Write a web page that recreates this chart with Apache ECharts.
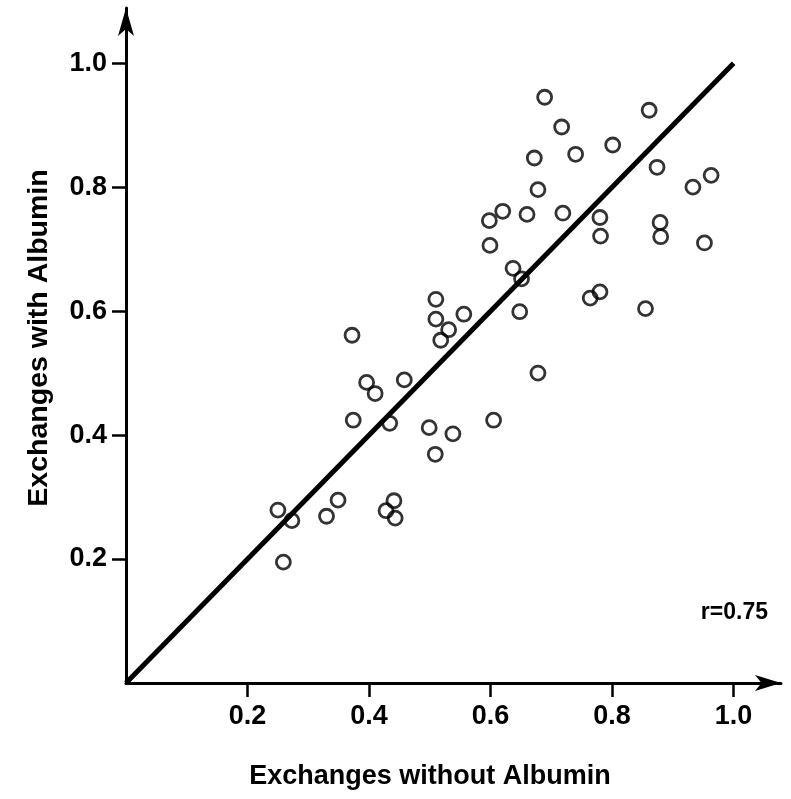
<!DOCTYPE html>
<html>
<head>
<meta charset="utf-8">
<script src="https://cdn.jsdelivr.net/npm/echarts@6/dist/echarts.min.js"></script>
<style>
html,body{margin:0;padding:0;background:#fff;}
#chart{width:791px;height:799px;}
</style>
</head>
<body>
<div id="chart"></div>
<script>
// Exchanges without Albumin (x) vs with Albumin (y)
var withoutAlbumin = [0.250,0.273,0.259,0.330,0.349,0.372,0.374,0.396,0.410,0.458,
  0.434,0.428,0.441,0.443,0.499,0.509,0.538,0.510,0.510,0.531,
  0.518,0.556,0.605,0.598,0.620,0.599,0.637,0.648,0.651,0.660,
  0.672,0.678,0.678,0.689,0.717,0.719,0.740,0.801,0.780,0.781,
  0.764,0.780,0.855,0.861,0.874,0.879,0.880,0.933,0.963,0.952];
var withAlbumin = [0.279,0.262,0.195,0.269,0.295,0.561,0.424,0.485,0.467,0.489,
  0.419,0.278,0.294,0.266,0.412,0.369,0.402,0.619,0.587,0.570,
  0.553,0.595,0.424,0.746,0.761,0.706,0.669,0.599,0.652,0.756,
  0.847,0.796,0.500,0.945,0.897,0.758,0.853,0.868,0.751,0.721,
  0.621,0.631,0.604,0.924,0.832,0.743,0.720,0.800,0.819,0.710];
var identityLine = [[0, 0], [1, 1]];
var xTickValues = [0.2, 0.4, 0.6, 0.8, 1.0];
var yTickValues = [0.2, 0.4, 0.6, 0.8, 1.0];
var xTickLabels = ['0.2', '0.4', '0.6', '0.8', '1.0'];
var yTickLabels = ['0.2', '0.4', '0.6', '0.8', '1.0'];
var xTitle = 'Exchanges without Albumin';
var yTitle = 'Exchanges with Albumin';
var rText = 'r=0.75';

var points = withoutAlbumin.map(function (v, i) { return [v, withAlbumin[i]]; });
var FONT = "'Liberation Sans', Arial, Helvetica, sans-serif";

function labelFor(values, labels) {
  return function (v) {
    for (var i = 0; i < values.length; i++) {
      if (Math.abs(values[i] - v) < 1e-6) return labels[i];
    }
    return '';
  };
}

var chart = echarts.init(document.getElementById('chart'), null, {renderer: 'canvas'});
chart.setOption({
  backgroundColor: '#fff',
  animation: false,
  grid: {left: 126, right: 10, top: 8, bottom: 116, containLabel: false},
  xAxis: {
    type: 'value', min: 0, max: 1.078, interval: 0.2,
    splitLine: {show: false},
    axisLine: {show: true, onZero: false, symbol: ['none', 'arrow'], symbolSize: [12, 26],
      lineStyle: {color: '#000', width: 3}},
    axisTick: {show: true, inside: false, length: 14, customValues: xTickValues,
      lineStyle: {color: '#000', width: 2.5}},
    axisLabel: {customValues: xTickValues, formatter: labelFor(xTickValues, xTickLabels),
      color: '#000', fontSize: 27, fontWeight: 'bold', fontFamily: FONT, margin: 20}
  },
  yAxis: {
    type: 'value', min: 0, max: 1.089, interval: 0.2,
    splitLine: {show: false},
    axisLine: {show: true, onZero: false, symbol: ['none', 'arrow'], symbolSize: [12, 28],
      lineStyle: {color: '#000', width: 3}},
    axisTick: {show: true, inside: false, length: 14, customValues: yTickValues,
      lineStyle: {color: '#000', width: 2.5}},
    axisLabel: {customValues: yTickValues, formatter: labelFor(yTickValues, yTickLabels),
      color: '#000', fontSize: 27, fontWeight: 'bold', fontFamily: FONT, margin: 19}
  },
  series: [
    {
      type: 'scatter', data: points, symbol: 'circle', symbolSize: 14,
      itemStyle: {color: 'rgba(0,0,0,0)', borderColor: '#000', borderWidth: 2.8},
      z: 2
    },
    {
      type: 'line', data: identityLine, symbol: 'none',
      lineStyle: {color: '#000', width: 5}, z: 3
    }
  ],
  graphic: [
    {type: 'text', x: 430, y: 777,
      style: {text: xTitle, fill: '#000', font: 'bold 27px ' + FONT, textAlign: 'center', textVerticalAlign: 'middle'}},
    {type: 'text', x: 39, y: 338, rotation: Math.PI / 2,
      style: {text: yTitle, fill: '#000', font: 'bold 28.5px ' + FONT, textAlign: 'center', textVerticalAlign: 'middle'}},
    {type: 'text', x: 768, y: 613,
      style: {text: rText, fill: '#000', font: 'bold 23px ' + FONT, textAlign: 'right', textVerticalAlign: 'middle'}}
  ]
});
</script>
</body>
</html>
